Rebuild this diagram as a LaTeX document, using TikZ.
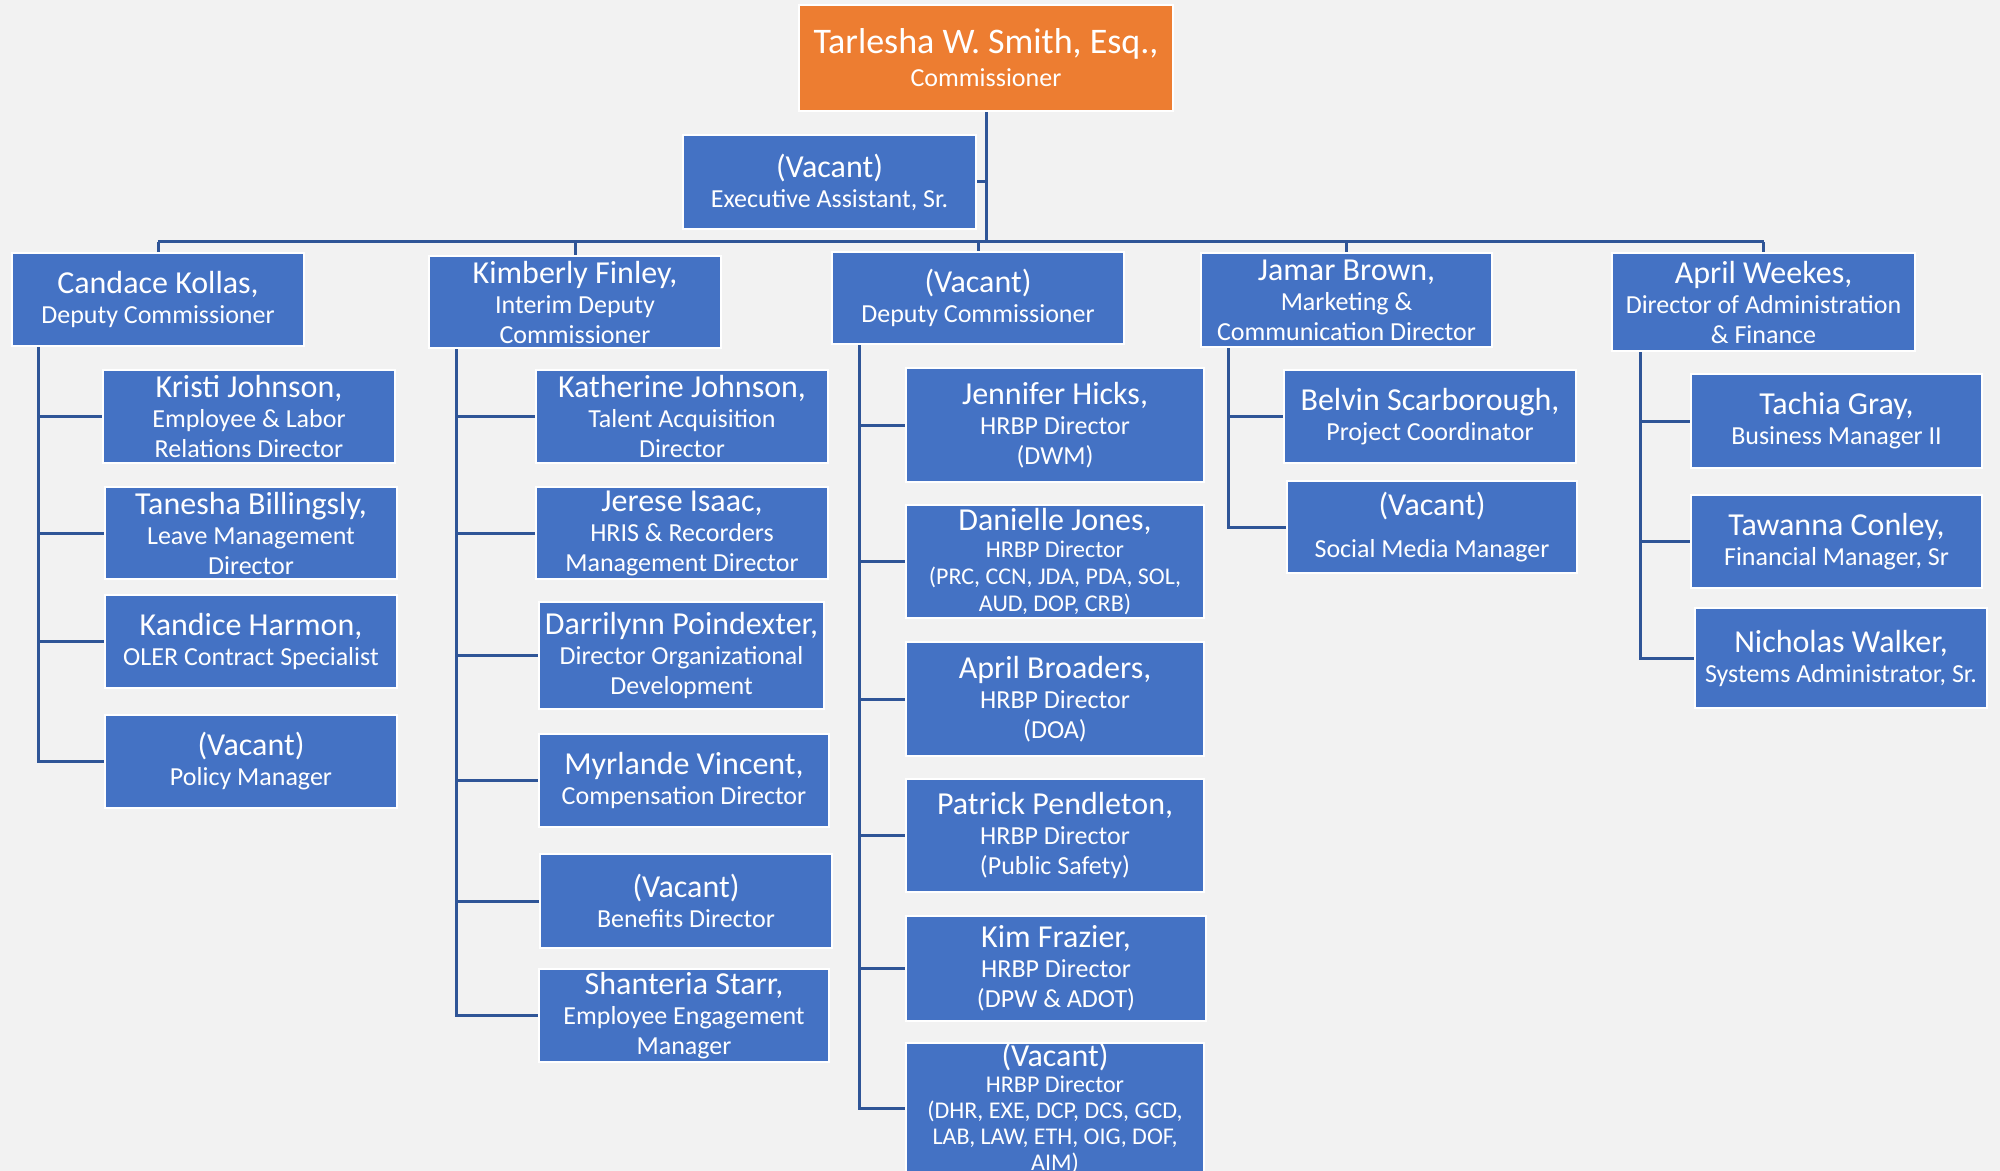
\documentclass[tikz,border=0pt]{standalone}
\usepackage{fontspec}
\setmainfont{Carlito}
\usetikzlibrary{calc}
\definecolor{bg}{HTML}{F2F2F2}
\definecolor{boxblue}{HTML}{4472C4}
\definecolor{topor}{HTML}{ED7D31}
\definecolor{linec}{HTML}{2F5597}
\pgfdeclarelayer{bottom}
\pgfdeclarelayer{background}
\pgfsetlayers{bottom,background,main}
\newcommand{\nm}[1]{{\fontsize{16}{15}\selectfont #1}}
\tikzset{
  box/.style={fill=boxblue, draw=white, line width=1.2pt, text=white, align=center,
    inner sep=0pt, font=\fontsize{13}{15}\selectfont},
  conn/.style={draw=linec, line width=1.5pt},
  small/.style={font=\fontsize{12}{13.5}\selectfont},
}
\newcommand{\orgbox}[7][]{\node[box,#1,minimum width={(#5-#3)*0.5pt},minimum height={(#6-#4)*0.5pt}] (#2) at ({(#3+#5)/2},{(#4+#6)/2}) {#7};}
\begin{document}
\begin{tikzpicture}[x=0.5pt,y=-0.5pt]
\useasboundingbox (0,0) rectangle (2000,1171);
\clip (0,0) rectangle (2000,1171);
\begin{pgfonlayer}{bottom}
\fill[bg] (0,0) rectangle (2000,1171);
\end{pgfonlayer}

% ---- boxes ----
\orgbox[fill=topor, font=\fontsize{13}{16.5}\selectfont]{top}{799}{5}{1173}{111}{{\fontsize{18}{16.5}\selectfont Tarlesha W. Smith, Esq.,}\\Commissioner}
\orgbox{exec}{683}{135}{976}{229}{\nm{(Vacant)}\\Executive Assistant, Sr.}

\orgbox{cand}{12}{253}{304}{346}{\nm{Candace Kollas,}\\Deputy Commissioner}
\orgbox{kim}{429}{256}{721}{348}{\nm{Kimberly Finley,}\\Interim Deputy\\Commissioner}
\orgbox{vdep}{832}{252}{1124}{344}{\nm{(Vacant)}\\Deputy Commissioner}
\orgbox{jamar}{1201}{253}{1492}{347}{\nm{Jamar Brown,}\\Marketing \&\\Communication Director}
\orgbox{april}{1612}{253}{1915}{351}{\nm{April Weekes,}\\Director of Administration\\\& Finance}

\orgbox{kristi}{103}{370}{395}{463}{\nm{Kristi Johnson,}\\Employee \& Labor\\Relations Director}
\orgbox{tanesha}{105}{487}{397}{579}{\nm{Tanesha Billingsly,}\\Leave Management\\Director}
\orgbox{kandice}{105}{595}{397}{688}{\nm{Kandice Harmon,}\\OLER Contract Specialist}
\orgbox{policy}{105}{715}{397}{808}{\nm{(Vacant)}\\Policy Manager}

\orgbox{kath}{536}{370}{828}{463}{\nm{Katherine Johnson,}\\Talent Acquisition\\Director}
\orgbox{jerese}{536}{487}{828}{579}{\nm{Jerese Isaac,}\\HRIS \& Recorders\\Management Director}
\orgbox{darr}{539}{602}{824}{709}{\nm{Darrilynn Poindexter,}\\Director Organizational\\Development}
\orgbox{myr}{539}{734}{829}{827}{\nm{Myrlande Vincent,}\\Compensation Director}
\orgbox{benef}{540}{854}{832}{948}{\nm{(Vacant)}\\Benefits Director}
\orgbox{shant}{539}{969}{829}{1062}{\nm{Shanteria Starr,}\\Employee Engagement\\Manager}

\orgbox{jenn}{906}{368}{1204}{482}{\nm{Jennifer Hicks,}\\HRBP Director\\(DWM)}
\orgbox[small]{dan}{906}{505}{1204}{618}{\nm{Danielle Jones,}\\HRBP Director\\(PRC, CCN, JDA, PDA, SOL,\\AUD, DOP, CRB)}
\orgbox{abroad}{906}{642}{1204}{756}{\nm{April Broaders,}\\HRBP Director\\(DOA)}
\orgbox{patrick}{906}{779}{1204}{892}{\nm{Patrick Pendleton,}\\HRBP Director\\(Public Safety)}
\orgbox{kimf}{906}{916}{1206}{1021}{\nm{Kim Frazier,}\\HRBP Director\\(DPW \& ADOT)}
\orgbox[font=\fontsize{12}{13}\selectfont]{vhrbp}{906}{1045}{1204}{1172}{\nm{(Vacant)}\\HRBP Director\\(DHR, EXE, DCP, DCS, GCD,\\LAB, LAW, ETH, OIG, DOF,\\AIM)}

\orgbox{belvin}{1284}{370}{1576}{463}{\nm{Belvin Scarborough,}\\Project Coordinator}
\orgbox{social}{1287}{481}{1577}{573}{\nm{(Vacant)}\\[6pt]Social Media Manager}

\orgbox{tachia}{1691}{374}{1982}{468}{\nm{Tachia Gray,}\\Business Manager II}
\orgbox{tawanna}{1691}{495}{1982}{588}{\nm{Tawanna Conley,}\\Financial Manager, Sr}
\orgbox{nicholas}{1695}{608}{1987}{708}{\nm{Nicholas Walker,}\\Systems Administrator, Sr.}

% ---- connectors (behind boxes) ----
\begin{pgfonlayer}{background}
\coordinate (bus) at (986,242);
\draw[conn] (top.south) -- (bus);
\draw[conn] (exec.east) -- (exec.east -| top.south);
\draw[conn] (cand.north |- bus) -- (april.north |- bus);
\foreach \n in {cand,kim,vdep,jamar,april}
  \draw[conn] (\n.north) -- (\n.north |- bus);

\coordinate (t1) at ($(cand.south west)+(28,0)$);
\coordinate (t2) at ($(kim.south west)+(29,0)$);
\coordinate (t3) at ($(vdep.south west)+(29,0)$);
\coordinate (t4) at ($(jamar.south west)+(29,0)$);
\coordinate (t5) at ($(april.south west)+(30,0)$);
\foreach \c in {kristi,tanesha,kandice,policy} \draw[conn] (t1) |- (\c.west);
\foreach \c in {kath,jerese,darr,myr,benef,shant} \draw[conn] (t2) |- (\c.west);
\foreach \c in {jenn,dan,abroad,patrick,kimf,vhrbp} \draw[conn] (t3) |- (\c.west);
\foreach \c in {belvin,social} \draw[conn] (t4) |- (\c.west);
\foreach \c in {tachia,tawanna,nicholas} \draw[conn] (t5) |- (\c.west);
\end{pgfonlayer}
\end{tikzpicture}
\end{document}
